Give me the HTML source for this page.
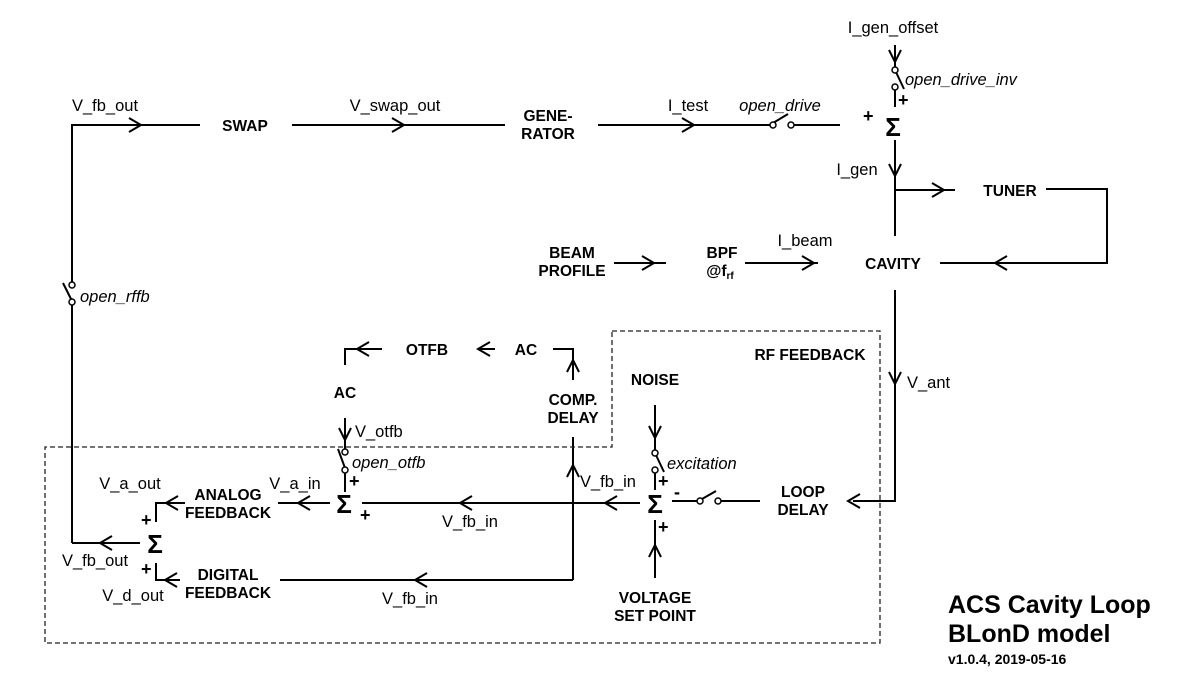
<!DOCTYPE html>
<html><head><meta charset="utf-8"><style>
html,body{margin:0;padding:0;background:#fff}
svg{display:block}
text{font-family:"Liberation Sans",sans-serif;fill:#000}
.l{font-size:16.5px}
.i{font-size:16.5px;font-style:italic}
.b{font-size:15.5px;font-weight:bold}
.s{font-size:26px;font-weight:bold}
.p{font-size:18px;font-weight:bold}
.t{font-size:25px;font-weight:bold}
.v{font-size:14px;font-weight:bold}
</style></head><body>
<svg width="1200" height="700" viewBox="0 0 1200 700" xmlns="http://www.w3.org/2000/svg">
<g fill="none" stroke="#000" stroke-width="2">
<polyline points="72,285 72,125 200,125"/>
<line x1="72" y1="302" x2="72" y2="543"/>
<line x1="63" y1="283" x2="72" y2="301"/>
<polyline points="129,118 141,125 129,132"/>
<line x1="292" y1="125" x2="505" y2="125"/>
<polyline points="392,118 404,125 392,132"/>
<line x1="598" y1="125" x2="770" y2="125"/>
<polyline points="682,118 694,125 682,132"/>
<line x1="773" y1="123" x2="788" y2="114"/>
<line x1="794" y1="125" x2="840" y2="125"/>
<line x1="895" y1="45" x2="895" y2="67"/>
<polyline points="889,50 895,62 901,50"/>
<line x1="895" y1="70" x2="904" y2="89"/>
<line x1="895" y1="90" x2="895" y2="107"/>
<line x1="895" y1="140" x2="895" y2="236"/>
<polyline points="889,164 895,176 901,164"/>
<line x1="895" y1="190" x2="955" y2="190"/>
<polyline points="932,183 944,190 932,197"/>
<polyline points="1046,189 1107,189 1107,263 940,263"/>
<polyline points="1007,256 995,263 1007,270"/>
<line x1="614" y1="263" x2="666" y2="263"/>
<polyline points="642,256 654,263 642,270"/>
<line x1="745" y1="263" x2="818" y2="263"/>
<polyline points="802,256 814,263 802,270"/>
<polyline points="895,290 895,501 853,501"/>
<polyline points="889,372 895,384 901,372"/>
<polyline points="860,494 848,501 860,508"/>
<line x1="760" y1="501" x2="721" y2="501"/>
<line x1="702" y1="499" x2="716" y2="491"/>
<line x1="697" y1="501" x2="672" y2="501"/>
<line x1="640" y1="503" x2="362" y2="503"/>
<polyline points="617,496 605,503 617,510"/>
<polyline points="472,496 460,503 472,510"/>
<line x1="573" y1="437" x2="573" y2="580"/>
<polyline points="567,477 573,465 579,477"/>
<line x1="280" y1="580" x2="573" y2="580"/>
<polyline points="427,573 415,580 427,587"/>
<polyline points="553,349 573,349 573,380"/>
<polyline points="567,372 573,360 579,372"/>
<line x1="478" y1="349" x2="495" y2="349"/>
<polyline points="490,342 478,349 490,356"/>
<polyline points="345,365 345,349 382,349"/>
<polyline points="369,342 357,349 369,356"/>
<line x1="345" y1="418" x2="345" y2="449"/>
<polyline points="339,428 345,440 351,428"/>
<line x1="338" y1="449" x2="345" y2="468"/>
<line x1="345" y1="473" x2="345" y2="492"/>
<line x1="330" y1="503" x2="278" y2="503"/>
<polyline points="310,496 298,503 310,510"/>
<polyline points="185,503 156,503 156,522"/>
<polyline points="178,496 166,503 178,510"/>
<line x1="140" y1="543" x2="72" y2="543"/>
<polyline points="112,536 100,543 112,550"/>
<polyline points="156,563 156,580 180,580"/>
<polyline points="177,573 165,580 177,587"/>
<line x1="655" y1="405" x2="655" y2="450"/>
<polyline points="649,426 655,438 661,426"/>
<line x1="655" y1="453" x2="664" y2="472"/>
<line x1="655" y1="473" x2="655" y2="490"/>
<line x1="655" y1="520" x2="655" y2="578"/>
<polyline points="649,557 655,545 661,557"/>
</g>
<g fill="#fff" stroke="#000" stroke-width="1.5">
<circle cx="72" cy="285" r="3"/><circle cx="72" cy="302" r="3"/>
<circle cx="773" cy="125" r="3"/><circle cx="791" cy="125" r="3"/>
<circle cx="895" cy="70" r="3"/><circle cx="895" cy="87" r="3"/>
<circle cx="345" cy="452" r="3"/><circle cx="345" cy="470" r="3"/>
<circle cx="655" cy="453" r="3"/><circle cx="655" cy="470" r="3"/>
<circle cx="700" cy="501" r="3"/><circle cx="718" cy="501" r="3"/>
</g>
<polygon points="612,331 880,331 880,643 45,643 45,447 612,447" fill="none" stroke="#222" stroke-width="1.3" stroke-dasharray="5,3"/>
<g text-anchor="middle">
<text class="b" x="245" y="131">SWAP</text>
<text class="b" x="548" y="121">GENE-</text>
<text class="b" x="548" y="139">RATOR</text>
<text class="b" x="1010" y="196">TUNER</text>
<text class="b" x="893" y="269">CAVITY</text>
<text class="b" x="572" y="258">BEAM</text>
<text class="b" x="572" y="276">PROFILE</text>
<text class="b" x="722" y="258">BPF</text>
<text class="b" x="720" y="276">@f<tspan font-size="10" dy="3">rf</tspan></text>
<text class="b" x="810" y="360">RF FEEDBACK</text>
<text class="b" x="803" y="497">LOOP</text>
<text class="b" x="803" y="515">DELAY</text>
<text class="b" x="655" y="385">NOISE</text>
<text class="b" x="655" y="603">VOLTAGE</text>
<text class="b" x="655" y="621">SET POINT</text>
<text class="b" x="573" y="405">COMP.</text>
<text class="b" x="573" y="423">DELAY</text>
<text class="b" x="526" y="355">AC</text>
<text class="b" x="427" y="355">OTFB</text>
<text class="b" x="345" y="398">AC</text>
<text class="b" x="228" y="500">ANALOG</text>
<text class="b" x="228" y="518">FEEDBACK</text>
<text class="b" x="228" y="580">DIGITAL</text>
<text class="b" x="228" y="598">FEEDBACK</text>
<text class="s" x="893" y="136">Σ</text>
<text class="s" x="655" y="513">Σ</text>
<text class="s" x="344" y="513">Σ</text>
<text class="s" x="155" y="553">Σ</text>
<text class="l" x="105" y="111">V_fb_out</text>
<text class="l" x="395" y="111">V_swap_out</text>
<text class="l" x="688" y="111">I_test</text>
<text class="i" x="780" y="111">open_drive</text>
<text class="l" x="893" y="33">I_gen_offset</text>
<text class="l" x="857" y="175">I_gen</text>
<text class="l" x="805" y="246">I_beam</text>
<text class="l" x="470" y="527">V_fb_in</text>
<text class="l" x="410" y="604">V_fb_in</text>
<text class="l" x="295" y="489">V_a_in</text>
<text class="l" x="130" y="489">V_a_out</text>
<text class="l" x="95" y="566">V_fb_out</text>
<text class="l" x="133" y="601">V_d_out</text>
</g>
<text class="p" x="863" y="122">+</text>
<text class="p" x="898" y="106">+</text>
<text class="p" x="349" y="487">+</text>
<text class="p" x="360" y="521">+</text>
<text class="p" x="141" y="526">+</text>
<text class="p" x="141" y="575">+</text>
<text class="p" x="658" y="487">+</text>
<text class="p" x="658" y="533">+</text>
<text class="p" x="674" y="498">-</text>
<text class="i" x="80" y="302">open_rffb</text>
<text class="i" x="905" y="85">open_drive_inv</text>
<text class="l" x="907" y="388">V_ant</text>
<text class="l" x="580" y="487">V_fb_in</text>
<text class="l" x="355" y="437">V_otfb</text>
<text class="i" x="352" y="468">open_otfb</text>
<text class="i" x="667" y="469">excitation</text>
<text class="t" x="948" y="613">ACS Cavity Loop</text>
<text class="t" x="948" y="642">BLonD model</text>
<text class="v" x="948" y="664">v1.0.4, 2019-05-16</text>
</svg>
</body></html>
